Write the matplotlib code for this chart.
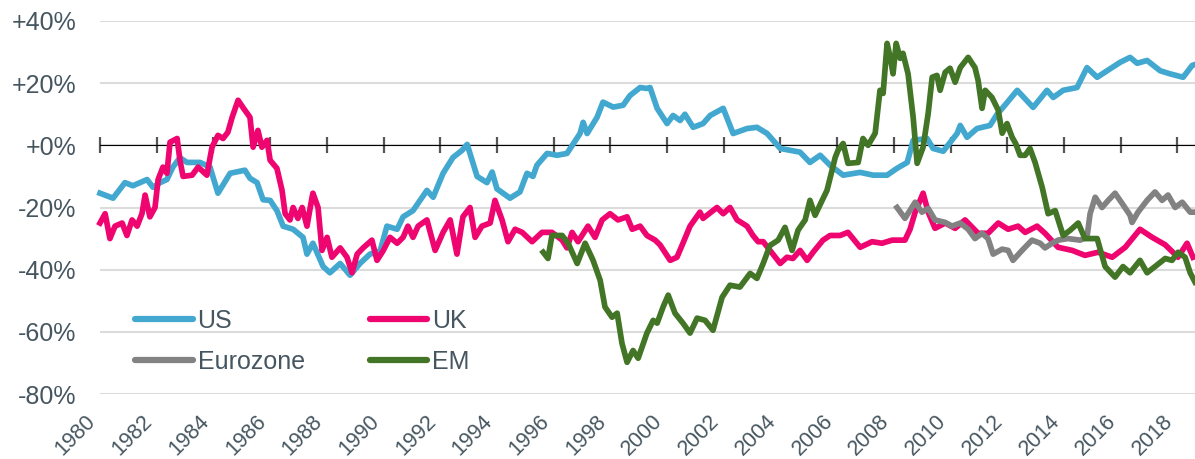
import matplotlib
matplotlib.use("Agg")
import matplotlib.pyplot as plt

plt.rcParams['font.family'] = ['Liberation Sans', 'DejaVu Sans']

# values (% relative valuation)
us_x = [1980.00, 1980.46, 1980.88, 1981.16, 1981.66, 1981.87, 1982.12, 1982.36, 1982.57, 1982.82,
        1983.07, 1983.53, 1983.88, 1984.16, 1984.59, 1985.11, 1985.29, 1985.54, 1985.75, 1986.00,
        1986.24, 1986.46, 1986.81, 1987.16, 1987.30, 1987.51, 1987.87, 1988.11, 1988.47, 1988.82,
        1989.17, 1989.52, 1989.88, 1990.12, 1990.48, 1990.69, 1991.04, 1991.53, 1991.75, 1992.10,
        1992.45, 1992.77, 1992.95, 1993.30, 1993.65, 1993.83, 1994.00, 1994.46, 1994.81, 1995.06,
        1995.27, 1995.41, 1995.77, 1996.12, 1996.47, 1996.93, 1997.04, 1997.18, 1997.53, 1997.74,
        1998.10, 1998.45, 1998.69, 1999.05, 1999.29, 1999.40, 1999.65, 2000.00, 2000.21, 2000.46,
        2000.63, 2000.92, 2001.27, 2001.52, 2001.98, 2002.33, 2002.82, 2003.17, 2003.53, 2003.99,
        2004.34, 2004.69, 2005.04, 2005.40, 2005.75, 2006.21, 2006.81, 2007.27, 2007.76, 2008.11,
        2008.47, 2008.68, 2009.17, 2009.38, 2009.74, 2010.23, 2010.34, 2010.58, 2010.93, 2011.39,
        2011.64, 2011.85, 2012.35, 2012.91, 2013.40, 2013.62, 2013.97, 2014.46, 2014.81, 2015.17,
        2015.52, 2015.98, 2016.33, 2016.58, 2016.93, 2017.39, 2017.74, 2018.20, 2018.52, 2018.62]
us_y = [-15.4, -17, -12, -13, -11, -13.5, -12, -11, -7, -4,
        -5.5, -5.5, -7, -15.4, -9, -8, -10.6, -12, -17.5, -17.7,
        -21, -26, -27, -29.6, -35, -31.5, -39, -41, -38, -41.8,
        -38, -35, -34, -26, -27, -23, -21, -14.5, -16.7, -9,
        -3.9, -1.6, 0.3, -10, -12, -8.6, -14, -17, -15, -9,
        -10, -6.4, -2.6, -3.2, -2.6, 3.8, 7.4, 3.8, 9, 13.9,
        12.3, 12.9, 16, 18.6, 18.3, 18.6, 11.9, 7, 9.6, 8,
        10, 5.8, 7, 9.6, 11.9, 3.8, 5.4, 5.8, 3.8, -1,
        -1.6, -2.2, -5.5, -3.2, -6.4, -9.6, -8.7, -9.6, -9.6, -7.4,
        -5.5, 1.6, 2.2, -1, -1.9, 3.8, 6.4, 2.6, 5.4, 6.4,
        10, 12.2, 17.7, 12.2, 17.7, 15.4, 17.7, 18.6, 25, 21.9,
        24, 26.7, 28.3, 26.4, 27.3, 24, 23, 21.9, 25.7, 26]

uk_x = [1980.00, 1980.18, 1980.35, 1980.53, 1980.78, 1980.95, 1981.13, 1981.31, 1981.48, 1981.59,
        1981.76, 1981.94, 1982.05, 1982.22, 1982.36, 1982.47, 1982.72, 1982.82, 1982.93, 1983.25,
        1983.46, 1983.77, 1983.95, 1984.16, 1984.34, 1984.51, 1984.66, 1984.87, 1985.04, 1985.29,
        1985.40, 1985.57, 1985.71, 1985.89, 1986.00, 1986.24, 1986.42, 1986.53, 1986.70, 1986.81,
        1986.98, 1987.13, 1987.30, 1987.48, 1987.51, 1987.69, 1987.83, 1988.01, 1988.18, 1988.47,
        1988.71, 1988.89, 1989.07, 1989.28, 1989.59, 1989.77, 1989.98, 1990.23, 1990.48, 1990.69,
        1990.86, 1991.04, 1991.22, 1991.53, 1991.82, 1992.10, 1992.35, 1992.59, 1992.80, 1993.05,
        1993.23, 1993.47, 1993.76, 1993.93, 1994.18, 1994.39, 1994.64, 1994.89, 1995.24, 1995.59,
        1995.94, 1996.30, 1996.47, 1996.65, 1996.86, 1997.21, 1997.46, 1997.71, 1997.99, 1998.27,
        1998.59, 1998.77, 1999.05, 1999.29, 1999.58, 1999.75, 2000.11, 2000.35, 2000.56, 2000.81,
        2001.16, 2001.27, 2001.76, 2001.98, 2002.22, 2002.47, 2002.82, 2003.03, 2003.21, 2003.39,
        2003.63, 2003.99, 2004.23, 2004.44, 2004.69, 2004.94, 2005.15, 2005.50, 2005.75, 2006.10,
        2006.38, 2006.81, 2007.23, 2007.58, 2007.94, 2008.39, 2008.57, 2008.75, 2009.03, 2009.21,
        2009.45, 2009.81, 2010.16, 2010.51, 2010.97, 2011.32, 2011.68, 2012.03, 2012.38, 2012.63,
        2013.05, 2013.33, 2013.79, 2014.29, 2014.74, 2015.20, 2015.70, 2016.16, 2016.68, 2017.11,
        2017.57, 2018.02, 2018.34, 2018.55]
uk_y = [-25, -22, -30, -26, -25, -29, -24, -26, -22, -16,
        -23, -20, -11, -7, -9, 1, 2.2, -4.8, -10, -9.6,
        -7, -9.6, -0.6, 3.2, 2.2, 4.2, 9, 14.5, 12.2, 9,
        -0.6, 4.8, -0.6, 1.6, -4.8, -7.4, -14.5, -22, -24, -20,
        -23.5, -20, -26, -16.7, -15.4, -20, -33.8, -29.6, -36, -33,
        -36, -41, -35, -33, -30.5, -37, -34, -29.6, -31.5, -29.6,
        -26, -29.6, -26, -24, -33.8, -28, -24, -35, -23, -20,
        -29.6, -26, -25, -17.7, -24, -31, -27, -28, -31, -28,
        -28, -30.5, -33, -28, -31, -26, -29.6, -24, -22, -24,
        -23, -27, -26, -29, -30.5, -32, -37, -36, -31.5, -26,
        -21.5, -23.5, -20, -22, -20, -24, -26, -29, -31, -31,
        -33.8, -38, -36, -36.4, -33.8, -37, -34.4, -30.5, -29, -29,
        -28, -32.8, -31, -31.5, -30.5, -30.5, -27, -21.5, -15.4, -21.5,
        -26.7, -25, -26.7, -24, -28.3, -28.3, -25, -27, -26, -28,
        -26, -28.3, -32.8, -33.8, -35.4, -34.4, -36, -32.8, -27, -29.6,
        -32, -36, -31.5, -36]

ez_x = [2008.11, 2008.39, 2008.75, 2008.99, 2009.21, 2009.45, 2009.81, 2010.05, 2010.34, 2010.62,
        2010.86, 2011.11, 2011.32, 2011.50, 2011.82, 2012.03, 2012.20, 2012.52, 2012.87, 2013.16,
        2013.33, 2013.58, 2013.79, 2014.14, 2014.57, 2014.81, 2014.92, 2015.10, 2015.34, 2015.56,
        2015.80, 2016.05, 2016.33, 2016.40, 2016.61, 2016.93, 2017.21, 2017.46, 2017.67, 2017.92,
        2018.17, 2018.45, 2018.62]
ez_y = [-20, -23.5, -18.3, -21.5, -20.3, -24, -24.8, -26, -25, -27,
        -30, -28.3, -30, -35, -33.4, -33.8, -37, -33.8, -30.5, -31.5,
        -33, -31.5, -30.5, -30, -30.5, -29.6, -22, -16.7, -20, -17.7,
        -15.4, -18.7, -22.5, -24.8, -21.5, -17.7, -15, -17.7, -16, -20,
        -18.3, -21.5, -21.5]

em_x = [1995.63, 1995.80, 1995.94, 1996.30, 1996.51, 1996.83, 1997.11, 1997.39, 1997.64, 1997.81,
        1998.06, 1998.24, 1998.41, 1998.59, 1998.80, 1998.98, 1999.29, 1999.51, 1999.65, 1999.86,
        2000.04, 2000.28, 2000.56, 2000.81, 2001.06, 2001.34, 2001.62, 2001.94, 2002.22, 2002.57,
        2002.93, 2003.17, 2003.39, 2003.63, 2003.92, 2004.16, 2004.41, 2004.62, 2004.87, 2005.04,
        2005.22, 2005.47, 2005.64, 2005.82, 2005.93, 2006.03, 2006.21, 2006.38, 2006.74, 2006.91,
        2007.09, 2007.34, 2007.51, 2007.62, 2007.76, 2007.87, 2007.97, 2008.08, 2008.22, 2008.32,
        2008.50, 2008.68, 2008.82, 2009.03, 2009.21, 2009.35, 2009.52, 2009.63, 2009.81, 2009.98,
        2010.16, 2010.34, 2010.62, 2010.86, 2010.97, 2011.11, 2011.22, 2011.46, 2011.68, 2011.82,
        2011.99, 2012.17, 2012.30, 2012.45, 2012.63, 2012.80, 2012.98, 2013.23, 2013.44, 2013.69,
        2013.97, 2014.22, 2014.50, 2014.74, 2015.17, 2015.45, 2015.80, 2016.08, 2016.33, 2016.68,
        2016.93, 2017.21, 2017.57, 2017.81, 2018.02, 2018.27, 2018.45, 2018.62]
em_y = [-34.4, -36.4, -29, -29, -31.5, -38, -31.5, -37, -43.4, -52,
        -55.3, -54, -63.7, -69.8, -66, -68.5, -60.4, -56.3, -57.2, -52,
        -48.2, -54, -57.2, -60.4, -55.6, -56.3, -59.5, -48.9, -45, -45.6,
        -41.2, -42.8, -38, -32.2, -30.5, -26.4, -33.8, -27.3, -24, -17.7,
        -22.5, -17.7, -14.5, -8, -3.9, -1.6, 0.6, -5.8, -5.5, 2.2,
        0, 3.9, 17.7, 16.7, 32.8, 28.3, 23, 32.8, 28, 29.6,
        23, 9, -5.8, -0.6, 10.3, 21.9, 22.5, 17.7, 23.5, 24.8,
        20.3, 25, 28.3, 25, 20.9, 11.9, 17.7, 15.4, 11.3, 3.9,
        7, 2.6, 0.5, -3.2, -3.2, -1, -5.5, -13.5, -22, -21,
        -29, -27.3, -25, -30, -30, -39, -42.4, -39, -41, -37,
        -41, -39, -36.4, -37, -34.4, -36, -41, -44]

year_ticks = list(range(1980, 2019, 2))
pct_ticks = [40, 20, 0, -20, -40, -60, -80]
pct_labels = ['+40%', '+20%', '+0%', '-20%', '-40%', '-60%', '-80%']

text_col = '#465660'

fig = plt.figure(figsize=(11.95, 4.59), dpi=100)
ax = fig.add_axes([100 / 1195, 1 - 394 / 459, 1 - 100 / 1195, (394 - 21) / 459])

lw = 4.1
l_us, = ax.plot(us_x, us_y, color='#42A8D0', lw=lw, label='US', clip_on=False, zorder=3)
l_uk, = ax.plot(uk_x, uk_y, color='#EF0570', lw=lw, label='UK', clip_on=False, zorder=3)
l_ez, = ax.plot(ez_x, ez_y, color='#828282', lw=lw, label='Eurozone', clip_on=False, zorder=3)
l_em, = ax.plot(em_x, em_y, color='#437526', lw=lw, label='EM', clip_on=False, zorder=3)

ax.set_xlim(1980, 2018.62)
ax.set_ylim(-80, 40)

ax.set_yticks(pct_ticks)
ax.set_yticklabels(pct_labels)
ax.set_xticks(year_ticks)
ax.set_xticklabels([str(y) for y in year_ticks], rotation=45, ha='right', va='top')
ax.tick_params(axis='y', length=0, pad=17, labelsize=18, labelcolor=text_col)
ax.tick_params(axis='x', length=0, pad=12, labelsize=15.5, labelcolor=text_col)
for s in ax.spines.values():
    s.set_visible(False)
ax.yaxis.grid(True, color='#DCDCDC', lw=1.5)
ax.set_axisbelow(True)

# zero line with year ticks
zero_ax = ax.secondary_xaxis(80 / 120)
zero_ax.set_xticks(year_ticks)
zero_ax.set_xticklabels([])
zero_ax.tick_params(direction='inout', length=11, width=1.6, color='#555555')
zero_ax.spines['bottom'].set_color('#555555')
zero_ax.spines['bottom'].set_linewidth(1.6)
zero_ax.set_zorder(1)

# legend filled column-wise: US / Eurozone, UK / EM
leg = ax.legend([l_us, l_ez, l_uk, l_em], ['US', 'Eurozone', 'UK', 'EM'],
                ncol=2, loc='upper left', bbox_to_anchor=(135 / 1195, 1 - 309 / 459),
                bbox_transform=fig.transFigure, frameon=False, fontsize=18,
                handlelength=2.3, handletextpad=0.2, columnspacing=2.6,
                labelspacing=0.68, borderpad=0, borderaxespad=0)
for t in leg.get_texts():
    t.set_color(text_col)
for h in leg.get_lines():
    h.set_linewidth(4.5)
    h.set_solid_capstyle('round')

fig.savefig('out.png', dpi=100)
